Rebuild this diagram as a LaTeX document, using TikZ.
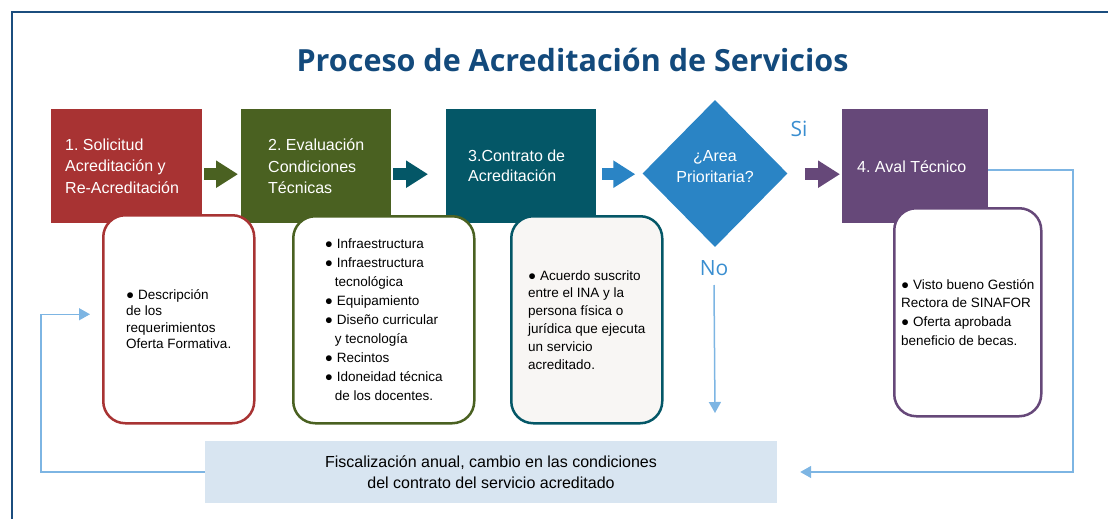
\documentclass[tikz,border=0pt]{standalone}
\usepackage{fontspec}
\setmainfont{Liberation Sans}
\newfontfamily\titlefont{Open Sans}
\usetikzlibrary{shapes.geometric,arrows.meta,calc}
\definecolor{navy}{HTML}{1B4D7E}
\definecolor{titlecol}{HTML}{134A7C}
\definecolor{cred}{HTML}{A83333}
\definecolor{cgreen}{HTML}{4A6121}
\definecolor{cteal}{HTML}{045767}
\definecolor{cblue}{HTML}{2A84C5}
\definecolor{cpurple}{HTML}{664879}
\definecolor{fbline}{HTML}{7DB5E3}
\definecolor{fiscfill}{HTML}{D8E5F1}
\definecolor{notethree}{HTML}{F8F6F4}
\definecolor{sino}{HTML}{3A8ED0}
\frenchspacing
\begin{document}
\begin{tikzpicture}[x=1pt,y=-1pt,
  stepbox/.style={rectangle, inner sep=0pt, minimum height=114pt, anchor=north west},
  steptext/.style={anchor=west, align=left, text=white, inner sep=0pt, font=\fontsize{16}{21.5}\selectfont},
  notebox/.style={draw, line width=2.5pt, rounded corners=22pt, fill=white, inner sep=0pt, anchor=north west, align=left},
  blockarrow/.style={line width=12pt, -{Triangle[width=26pt,length=22pt]}},
  fb/.style={draw=fbline, line width=1.5pt, -{Triangle[width=12pt,length=11pt]}},
  sinolabel/.style={text=sino, font=\titlefont\fontsize{21}{24}\selectfont, inner sep=0pt}
]
\useasboundingbox (0,0) rectangle (1108,519);
% frame
\draw[navy, line width=2pt] (12,521) -- (12,12.5) -- (1110,12.5);
% title
\node[text=titlecol, font=\titlefont\bfseries\fontsize{30.5}{36}\selectfont] (title) at (572.5,60) {Proceso de Acreditación de Servicios};

% step boxes
\node[stepbox, fill=cred, minimum width=151pt] (b1) at (51,109) {};
\node[stepbox, fill=cgreen, minimum width=150pt] (b2) at (241,109) {};
\node[stepbox, fill=cteal, minimum width=150pt] (b3) at (446,109) {};
\node[stepbox, fill=cpurple, minimum width=146pt] (b4) at (842,109) {};
\node[diamond, fill=cblue, inner sep=0pt, minimum width=145pt, minimum height=147pt] (dia) at (715,173.5) {};

\node[steptext] (t1) at ([xshift=14pt]b1.west) {1. Solicitud\\Acreditación y\\Re-Acreditación};
\node[steptext] (t2) at ([xshift=27pt]b2.west) {2. Evaluación\\Condiciones\\Técnicas};
\node[steptext, font=\fontsize{16}{20}\selectfont] (t3) at ([xshift=22pt]b3.west) {3.Contrato de\\Acreditación};
\node[steptext] (t4) at ([xshift=15pt]b4.west) {4. Aval Técnico};
\node[text=white, align=center, inner sep=0pt, font=\fontsize{16}{21}\selectfont] (tdia) at ([yshift=7pt]dia.center) {¿Area\\Prioritaria?};

% block arrows
\draw[blockarrow, cgreen] ([xshift=2pt,yshift=-8pt]b1.east) -- ([xshift=-3pt,yshift=-8pt]b2.west);
\draw[blockarrow, cteal] ([xshift=2pt,yshift=-8pt]b2.east) -- ([xshift=-18pt,yshift=-8pt]b3.west);
\draw[blockarrow, cblue] ([xshift=6pt,yshift=-8pt]b3.east) -- ([xshift=-7pt,yshift=-8pt]b3.east -| dia.west);
\draw[blockarrow, cpurple] ([xshift=17.5pt,yshift=-8pt]b3.east -| dia.east) -- ([xshift=-2pt,yshift=-8pt]b4.west);

% note boxes
\node[notebox, draw=cgreen, minimum width=181pt, minimum height=207pt, font=\fontsize{13.5}{19}\selectfont] (d2) at (292,215)
  {● Infraestructura\\● Infraestructura\\\hspace*{10pt}tecnológica\\● Equipamiento\\● Diseño curricular\\\hspace*{10pt}y tecnología\\● Recintos\\● Idoneidad técnica\\\hspace*{10pt}de los docentes.};
\node[notebox, draw=cred, minimum width=151pt, minimum height=208pt, font=\fontsize{13.5}{16.5}\selectfont] (d1) at (102,214)
  {● Descripción\\de los\\requerimientos\\Oferta Formativa.};
\node[notebox, draw=cteal, fill=notethree, minimum width=151pt, minimum height=207pt, font=\fontsize{13.5}{17.8}\selectfont] (d3) at (510,215)
  {● Acuerdo suscrito\\entre el INA y la\\persona física o\\jurídica que ejecuta\\un servicio\\acreditado.};
\node[notebox, draw=cpurple, minimum width=147pt, minimum height=208pt, font=\fontsize{13.5}{18.7}\selectfont] (d4) at (893,207)
  {● Visto bueno Gestión\\Rectora de SINAFOR\\● Oferta aprobada\\beneficio de becas.};

% Si / No
\node[sinolabel] (si) at (799,129) {Si};
\node[sinolabel] (no) at (714,268) {No};
\coordinate (noend) at (715,413);
\draw[fb] (no.south |- 0,285) -- (noend);

% fiscalizacion
\node[rectangle, fill=fiscfill, inner sep=0pt, minimum width=572pt, minimum height=62pt, align=center, font=\fontsize{16}{21}\selectfont] (fisc) at (491,472)
  {Fiscalización anual, cambio en las condiciones\\del contrato del servicio acreditado};

% feedback connectors
\draw[fb] (fisc.west) -| ([xshift=-61pt,yshift=5pt]d1.west) -- ([xshift=-12pt,yshift=5pt]d1.west);
\draw[fb] ([yshift=-4pt]b4.east) -| ([xshift=296pt]fisc.east) -- ([xshift=23pt]fisc.east);
\end{tikzpicture}
\end{document}
